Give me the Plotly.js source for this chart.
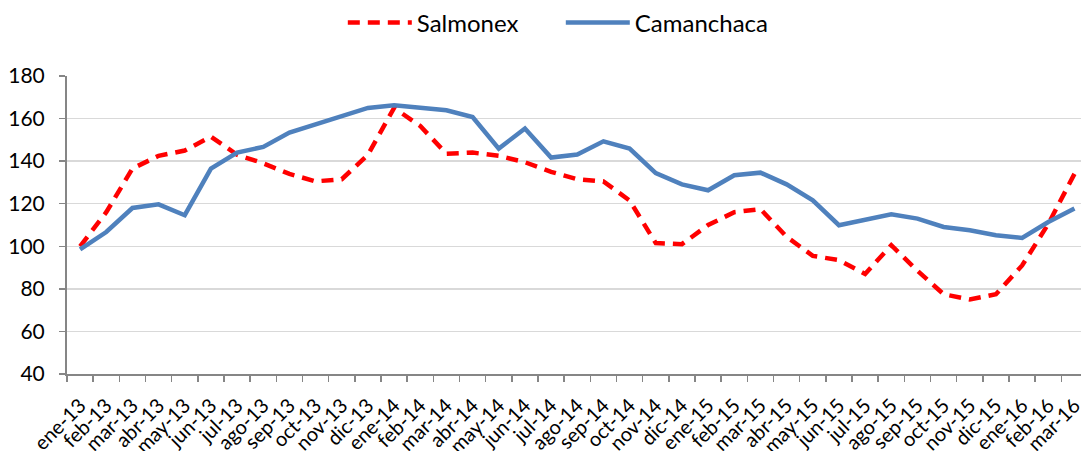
<!DOCTYPE html>
<html>
<head>
<meta charset="utf-8">
<script src="https://cdn.plot.ly/plotly-3.0.1.min.js"></script>
<style>html,body{margin:0;padding:0;background:#fff;}#chart{width:1081px;height:451px;}</style>
</head>
<body>
<div id="chart"></div>
<script>
const categories = [
  "ene-13","feb-13","mar-13","abr-13","may-13","jun-13","jul-13","ago-13","sep-13","oct-13","nov-13","dic-13",
  "ene-14","feb-14","mar-14","abr-14","may-14","jun-14","jul-14","ago-14","sep-14","oct-14","nov-14","dic-14",
  "ene-15","feb-15","mar-15","abr-15","may-15","jun-15","jul-15","ago-15","sep-15","oct-15","nov-15","dic-15",
  "ene-16","feb-16","mar-16"
];
const salmonex = [
  100,116,136.5,142.5,145,151.5,143,139,134,130.5,131.5,143,
  165,156.5,143.5,144,142.5,139.5,135,131.5,130.5,121.5,101.5,101,
  110,116,117.5,104.5,95.5,93.5,87,100.5,88.5,77.5,75,77.5,
  91,110.5,134
];
const camanchaca = [
  98.5,106.7,118,119.7,114.6,136.5,144,146.7,153.4,157.3,160.7,165,
  166.2,165,163.9,160.7,145.9,155.3,141.7,143.1,149.3,145.9,134.4,129.1,
  126.3,133.4,134.6,129.1,121.6,109.9,112.5,115,113,109.1,107.5,105.2,
  103.9,111.4,117.7
];
const yTicks = [40,60,80,100,120,140,160,180];

const traces = [
  {x: categories, y: salmonex, name: "Salmonex", type: "scatter", mode: "lines",
   line: {color: "#FF0000", width: 4.5, dash: "12px,8px"}},
  {x: categories, y: camanchaca, name: "Camanchaca", type: "scatter", mode: "lines",
   line: {color: "#4F81BD", width: 4.5}}
];
const layout = {
  width: 1081, height: 451,
  margin: {l: 67, r: 0, t: 76, b: 77, pad: 0},
  paper_bgcolor: "#fff", plot_bgcolor: "#fff",
  font: {family: "Lato, 'Open Sans', sans-serif", size: 20, color: "#000"},
  showlegend: true,
  legend: {orientation: "h", x: 0.272, xanchor: "left", y: 1.178, yanchor: "middle",
           font: {size: 24, color: "#000"}, itemwidth: 64, entrywidth: 139,
           bgcolor: "rgba(0,0,0,0)"},
  xaxis: {type: "category", range: [-0.5, 38.25], tickson: "boundaries",
          ticks: "outside", ticklen: 6, tickcolor: "#868686", tickwidth: 1.5,
          showline: true, linecolor: "#868686", linewidth: 2,
          showgrid: false, zeroline: false, tickangle: -45,
          ticklabelstandoff: 10,
          tickfont: {size: 20}, fixedrange: true},
  yaxis: {range: [40, 180], tickvals: yTicks, ticks: "outside", ticklen: 6,
          tickcolor: "#868686", tickwidth: 1.5,
          showline: true, linecolor: "#868686", linewidth: 2,
          showgrid: true, gridcolor: "#D9D9D9", gridwidth: 1.5, zeroline: false,
          ticklabelstandoff: 10,
          tickfont: {size: 21}, fixedrange: true}
};
Plotly.newPlot("chart", traces, layout, {displayModeBar: false, staticPlot: true});
</script>
</body>
</html>
